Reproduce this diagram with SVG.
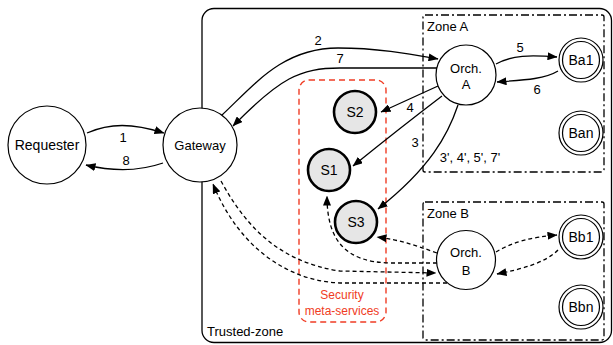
<svg xmlns="http://www.w3.org/2000/svg" width="613" height="345" viewBox="0 0 613 345">
<defs>
<marker id="ah" markerWidth="10" markerHeight="8" refX="9.5" refY="4" orient="auto" markerUnits="userSpaceOnUse"><path d="M0,0 L10,4 L0,8 Z" fill="#000"/></marker>
<style>
text{font-family:"Liberation Sans",Arial,sans-serif;fill:#000}
.node{fill:#fff;stroke:#000;stroke-width:1.2}
.svc{fill:#e6e6e6;stroke:#000;stroke-width:2.6}
.conn{fill:none;stroke:#000;stroke-width:1.3}
.dash{stroke-dasharray:4 3}
.zone{fill:none;stroke:#000;stroke-width:1.3;stroke-dasharray:8 3 2 3}
.t14{font-size:14px;text-anchor:middle}
.t13{font-size:13px;text-anchor:middle}
.lbl{font-size:13px;text-anchor:middle}
.red{fill:#f03c24;font-size:12px;text-anchor:middle}
</style>
</defs>
<rect id="trusted-zone" x="202" y="8.5" width="409.5" height="334" rx="12" fill="none" stroke="#000" stroke-width="1.3"/>
<text x="207" y="336" font-size="13">Trusted-zone</text>
<g id="zone-a"><rect x="423" y="15" width="181" height="157" rx="2" class="zone"/><text x="427" y="31" font-size="13">Zone A</text></g>
<g id="zone-b"><rect x="423" y="202" width="181" height="138" rx="2" class="zone"/><text x="427" y="218" font-size="13">Zone B</text></g>
<g id="security"><rect x="299" y="80" width="87" height="242" rx="10" fill="none" stroke="#f03c24" stroke-width="1.4" stroke-dasharray="6 4"/><text x="342" y="299" class="red">Security</text><text x="342" y="315" class="red">meta-services</text></g>
<g id="connectors">
<path class="conn" d="M87 133 C110 123,132 123,164 133" marker-end="url(#ah)"/>
<path class="conn" d="M163 163 C140 171,115 172,86 165" marker-end="url(#ah)"/>
<path class="conn" d="M222 115 C255 84,283 48,338 48 C378 48,410 54,438 59" marker-end="url(#ah)"/>
<path class="conn" d="M437 68 L340 68 C300 68,280 78,233 126" marker-end="url(#ah)"/>
<path class="conn" d="M438 86 L381 112" marker-end="url(#ah)"/>
<path class="conn" d="M442 96 Q400 128 353 166" marker-end="url(#ah)"/>
<path class="conn" d="M458 105 C448 135,430 168,378 209" marker-end="url(#ah)"/>
<path class="conn" d="M496 64 C512 55,530 55,557 57" marker-end="url(#ah)"/>
<path class="conn" d="M558 71 C545 79,525 80,497 82" marker-end="url(#ah)"/>
<path class="conn dash" d="M496 252 C512 242,532 237,557 235" marker-end="url(#ah)"/>
<path class="conn dash" d="M558 250 C545 263,522 269,497 274" marker-end="url(#ah)"/>
<path class="conn dash" d="M437 253 C415 245,400 240,377 237" marker-end="url(#ah)"/>
<path class="conn dash" d="M437 263 L390 263 C345 262,327 240,327 196" marker-end="url(#ah)"/>
<path class="conn dash" d="M221 181 C245 225,278 262,340 271 L436 273" marker-end="url(#ah)"/>
<path class="conn dash" d="M447 283 L340 283 C290 281,240 250,213 184" marker-end="url(#ah)"/>
</g>
<g id="labels">
<text x="123" y="142" class="lbl">1</text>
<text x="126" y="165" class="lbl">8</text>
<text x="318" y="45" class="lbl">2</text>
<text x="340" y="63" class="lbl">7</text>
<text x="410" y="112" class="lbl">4</text>
<text x="415" y="147" class="lbl">3</text>
<text x="520" y="52" class="lbl">5</text>
<text x="537" y="94" class="lbl">6</text>
<text x="470" y="162" class="lbl">3', 4', 5', 7'</text>
</g>
<g id="requester"><circle cx="47" cy="145" r="39" class="node"/><text x="47" y="150" class="t14">Requester</text></g>
<g id="gateway"><circle cx="200" cy="145" r="37" class="node"/><text x="200" y="150" class="t13">Gateway</text></g>
<g id="s2"><circle cx="355" cy="112" r="21" class="svc"/><text x="355" y="117" class="t14">S2</text></g>
<g id="s1"><circle cx="329" cy="170" r="21" class="svc"/><text x="329" y="175" class="t14">S1</text></g>
<g id="s3"><circle cx="356" cy="222" r="21" class="svc"/><text x="356" y="227" class="t14">S3</text></g>
<g id="orch-a"><circle cx="466" cy="75" r="30" class="node"/><text x="466" y="73" class="t13">Orch.</text><text x="466" y="89" class="t13">A</text></g>
<g id="orch-b"><circle cx="466" cy="260" r="29.5" class="node"/><text x="466" y="257" class="t13">Orch.</text><text x="466" y="275" class="t13">B</text></g>
<g id="ba1"><circle cx="581" cy="60" r="22" class="node"/><circle cx="581" cy="60" r="18.5" class="node"/><text x="581" y="65" class="t14">Ba1</text></g>
<g id="ban"><circle cx="581" cy="133" r="22" class="node"/><circle cx="581" cy="133" r="18.5" class="node"/><text x="581" y="138" class="t14">Ban</text></g>
<g id="bb1"><circle cx="581" cy="237" r="22" class="node"/><circle cx="581" cy="237" r="18.5" class="node"/><text x="581" y="242" class="t14">Bb1</text></g>
<g id="bbn"><circle cx="581" cy="307" r="22" class="node"/><circle cx="581" cy="307" r="18.5" class="node"/><text x="581" y="312" class="t14">Bbn</text></g>
</svg>
